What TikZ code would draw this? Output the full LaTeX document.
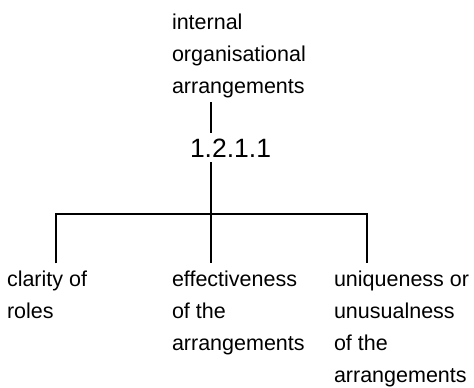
\documentclass[tikz,border=0pt]{standalone}
\usepackage{fontspec}
\setmainfont{Liberation Sans}
\begin{document}
\begin{tikzpicture}[x=1pt,y=-1pt,
  lbl/.style={font=\fontsize{21.5}{32}\selectfont, align=left,
    inner sep=0pt, outer sep=0pt, anchor=base west},
  numlbl/.style={font=\fontsize{26.5}{32}\selectfont,
    inner sep=0pt, outer sep=0pt, anchor=base west},
  branch/.style={line width=1.6pt, line cap=butt}]
  \useasboundingbox (0,0) rectangle (474,388);

  % topic and its number (base anchor sits on the last line)
  \node[lbl] (topic) at (172,93) {internal\\organisational\\arrangements};
  \node[numlbl] (num) at (190,157) {1.2.1.1};

  % sub-criteria
  \node[lbl] (clarity) at (7,318) {clarity of\\roles};
  \node[lbl] (effect) at (172,350) {effectiveness\\of the\\arrangements};
  \node[lbl] (unique) at (334,382) {uniqueness or\\unusualness\\of the\\arrangements};

  % branch points of the tree
  \coordinate (spine) at (211,214);
  \coordinate (bl) at (56,214);
  \coordinate (br) at (367,214);

  \draw[branch, shorten <=5pt, shorten >=5pt] (topic.south -| spine) -- (num.north -| spine);
  \draw[branch, shorten <=5pt, shorten >=7pt] (num.south -| spine) -- (effect.north -| spine);
  \draw[branch, shorten <=7pt, shorten >=7pt] (clarity.north -| bl) -- (bl) -- (br) -- (unique.north -| br);
\end{tikzpicture}
\end{document}
